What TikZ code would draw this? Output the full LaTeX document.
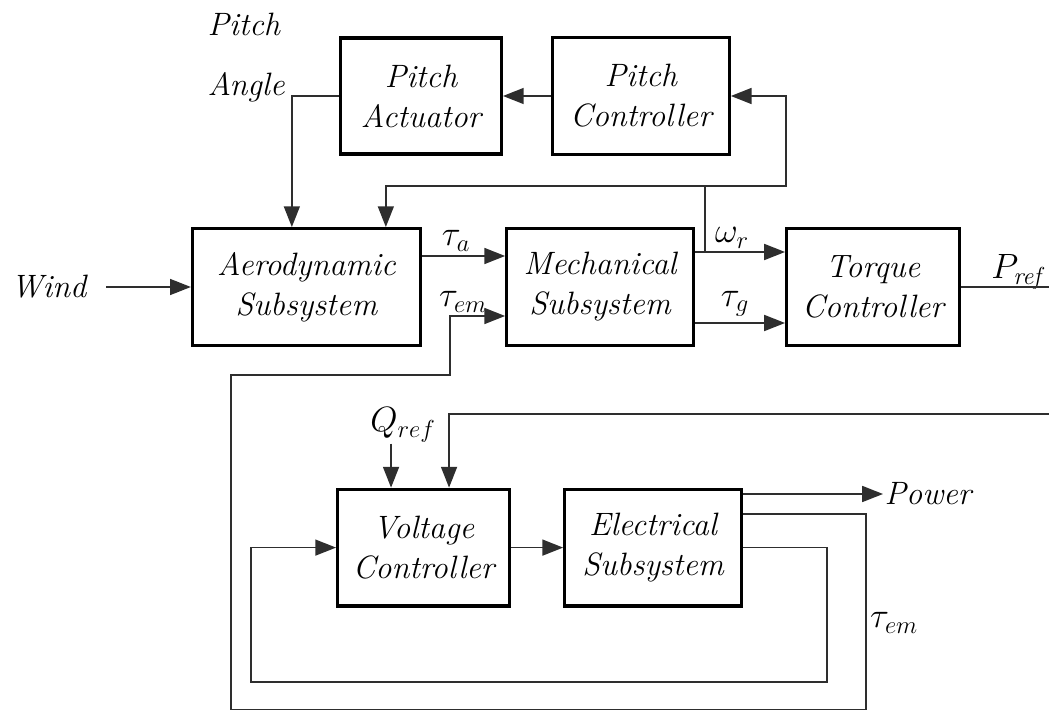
\RequirePackage{fix-cm}
\documentclass[tikz,border=0pt]{standalone}
\usepackage{amsmath}
\usetikzlibrary{arrows.meta,positioning,calc}
\definecolor{linegray}{HTML}{2E2E2E}
\newcommand{\blockfont}{\fontsize{23}{28.5}\selectfont\itshape}
\newcommand{\labelfont}{\fontsize{25}{30}\selectfont\itshape}
\tikzset{
  blockbox/.style={draw, line width=2.2pt, align=center,
    minimum height=2.92cm, inner sep=2pt, font=\blockfont},
  arr/.style={-{Triangle[length=5.2mm, width=4mm]}, line width=1.1pt, draw=linegray},
  plainline/.style={line width=1.1pt, draw=linegray},
  sig/.style={inner sep=1pt, font=\blockfont},
  mathsig/.style={inner sep=1pt, font=\labelfont}
}

\begin{document}
\begin{tikzpicture}
    \useasboundingbox (0,0) rectangle (26.225,17.8);
    % main row
    \node[blockbox, minimum width=5.7cm] (aero) at (7.66,10.625) {Aerodynamic\\Subsystem};
    \node[blockbox, minimum width=4.67cm, right=2.08cm of aero] (mech) {Mechanical\\Subsystem};
    \node[blockbox, minimum width=4.32cm, right=2.25cm of mech] (tcon) {Torque\\Controller};
    % pitch loop
    \node[blockbox, minimum width=4.02cm, minimum height=2.9cm] (act) at (10.525,15.4) {Pitch\\Actuator};
    \node[blockbox, minimum width=4.42cm, right=1.2cm of act] (pcon) {Pitch\\Controller};
    % electrical part
    \node[blockbox, minimum width=4.3cm] (vcon) at (10.59,4.11) {Voltage\\Controller};
    \node[blockbox, minimum width=4.42cm, right=1.3cm of vcon] (elec) {Electrical\\Subsystem};

    \node[sig, anchor=east] (wind) at (2.2,10.625) {Wind};
    \node[sig, align=left, anchor=west, font=\fontsize{23}{42.7}\selectfont\itshape] (pangle) at (5.15,16.35) {Pitch\\Angle};
    \node[mathsig] (taua) at (11.4,11.775) {$\tau_a$};
    \node[mathsig] (tauem) at (11.575,10.25) {$\tau_{em}$};
    \node[mathsig] (omr) at (18.3,11.85) {$\omega_r$};
    \node[mathsig] (taug) at (18.375,10.2) {$\tau_g$};
    \node[mathsig] (pref) at (25.475,11.0) {$P_{\mathit{ref}}$};
    \node[mathsig] (qref) at (10.075,7.175) {$Q_{ref}$};
    \node[mathsig] (tauemb) at (22.35,2.225) {$\tau_{em}$};
    \node[sig, anchor=west] (power) at (22.075,5.45) {Power};

    \coordinate (wsplit) at ([xshift=0.25cm, yshift=0.875cm]mech.east);
    \coordinate (fbtop) at ($(wsplit)+(0,1.65)$);
    \coordinate (prefout) at (26.3,10.625);
    \coordinate (tembr) at (21.65,0.06);
    \coordinate (tembl) at (5.775,0.06);
    \coordinate (temup) at (11.25,8.425);
    \coordinate (vbot) at (6.275,0.75);
    \coordinate (qx) at ([xshift=1.375cm]vcon.north west);
    \coordinate (fbin) at (26.3,7.45);

    \draw[arr] ([xshift=0.45cm]wind.east) -- (aero.west);
    \draw[arr] (pcon.west) -- (act.east);
    \draw[arr] (act.west) -| ([xshift=2.525cm]aero.north west);
    \draw[arr] ([yshift=0.775cm]aero.east) -- ([yshift=0.775cm]mech.west);
    \draw[arr] ([yshift=0.875cm]mech.east) -- ([yshift=0.875cm]tcon.west);
    \draw[arr] ([yshift=-0.9cm]mech.east) -- ([yshift=-0.9cm]tcon.west);
    \draw[plainline] (wsplit) -- (fbtop);
    \draw[arr] (fbtop) -| ([xshift=4.875cm]aero.north west);
    \draw[arr] (fbtop) -| ([xshift=1.375cm]pcon.east) -- (pcon.east);
    \draw[plainline] (tcon.east) -- (prefout);

    \draw[arr] (vcon.east) -- (elec.west);
    \draw[arr] ([yshift=1.34cm]elec.east) -- (power.west);
    \draw[arr] ([yshift=0.84cm]elec.east) -| (tembr) -- (tembl) |- (temup) |- ([yshift=-0.725cm]mech.west);
    \draw[arr] (elec.east) -- ++(2.1,0) |- (vbot) |- (vcon.west);
    \draw[arr] (qx |- qref.south) -- (qx);
    \draw[arr] (fbin) -| ([xshift=2.825cm]vcon.north west);
  \end{tikzpicture}
\end{document}
